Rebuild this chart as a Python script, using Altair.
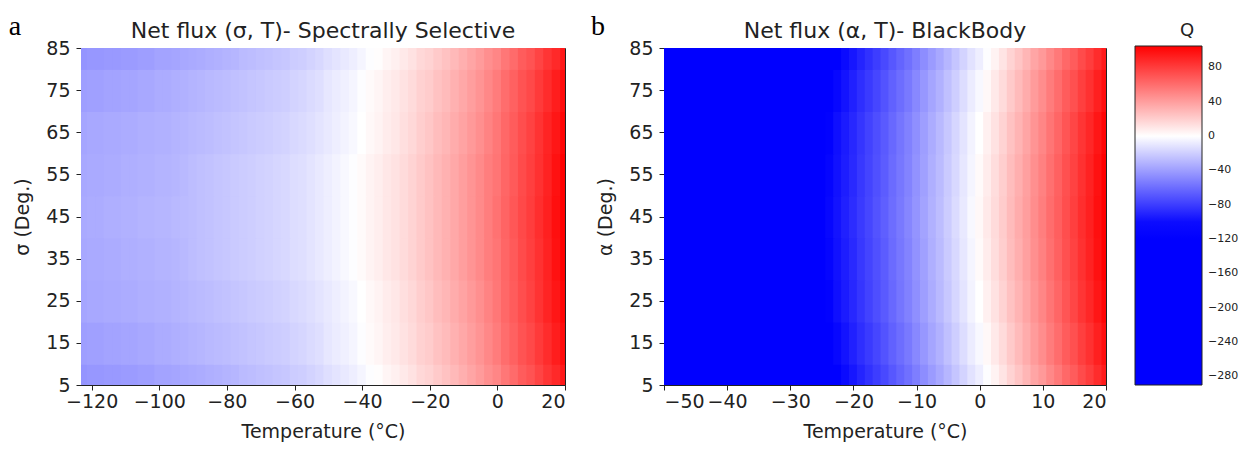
import altair as alt
import pandas as pd

# ---------------- data ----------------
# Panel a: spectrally selective, Q(sigma, T); one list per sigma row
SS_T = [-122.5, -120, -117.5, -115, -112.5, -110, -107.5, -105, -102.5, -100,
        -97.5, -95, -92.5, -90, -87.5, -85, -82.5, -80, -77.5, -75,
        -72.5, -70, -67.5, -65, -62.5, -60, -57.5, -55, -52.5, -50,
        -47.5, -45, -42.5, -40, -37.5, -35, -32.5, -30, -27.5, -25,
        -22.5, -20, -17.5, -15, -12.5, -10, -7.5, -5, -2.5, 0,
        2.5, 5, 7.5, 10, 12.5, 15, 17.5, 20]
SS_ANGLES = [5, 15, 25, 35, 45, 55, 65, 75, 85]
SS_Q5 = [-44, -43, -43, -42, -42, -41, -41, -40, -40, -38,
         -38, -37, -36, -35, -34, -33, -32, -31, -30, -28,
         -27, -26, -25, -24, -23, -21, -20, -18, -16, -13,
         -11, -9, -7, -4, -1, 1, 4, 6, 9, 12,
         16, 18, 22, 25, 29, 33, 37, 41, 46, 50,
         56, 61, 67, 71, 77, 83, 88, 95]
SS_Q15 = [-40, -39, -39, -38, -38, -37, -37, -36, -36, -34,
          -34, -33, -32, -31, -30, -29, -28, -27, -26, -25,
          -24, -23, -22, -21, -20, -18, -17, -15, -13, -10,
          -8, -6, -4, -1, 2, 4, 7, 9, 12, 15,
          19, 21, 25, 28, 32, 36, 40, 44, 49, 54,
          60, 65, 71, 75, 81, 87, 93, 100]
SS_Q25 = [-37, -36, -36, -35, -35, -34, -34, -33, -33, -32,
          -32, -31, -30, -29, -28, -27, -26, -25, -24, -23,
          -22, -21, -20, -19, -18, -16, -15, -13, -11, -9,
          -7, -5, -3, 0, 3, 5, 8, 10, 13, 16,
          20, 23, 27, 30, 34, 38, 42, 46, 51, 56,
          62, 67, 73, 78, 84, 90, 96, 103]
SS_Q35 = [-36, -35, -35, -34, -34, -33, -33, -32, -32, -31,
          -31, -30, -29, -27, -26, -25, -24, -23, -22, -21,
          -20, -19, -18, -17, -16, -14, -13, -11, -9, -7,
          -5, -3, -1, 2, 5, 7, 10, 12, 15, 18,
          22, 25, 29, 32, 36, 40, 44, 48, 53, 57,
          63, 68, 74, 79, 85, 91, 98, 105]
SS_Q45 = [-35, -34, -34, -33, -33, -32, -32, -31, -31, -30,
          -30, -29, -28, -27, -26, -25, -24, -23, -22, -21,
          -20, -19, -18, -17, -16, -14, -13, -11, -9, -7,
          -5, -3, -1, 2, 5, 7, 10, 12, 15, 18,
          22, 25, 29, 32, 36, 40, 44, 48, 53, 58,
          64, 69, 75, 80, 86, 92, 99, 106]
SS_Q55 = [-36, -35, -35, -34, -34, -33, -33, -32, -32, -31,
          -31, -30, -29, -27, -26, -25, -24, -23, -22, -21,
          -20, -19, -18, -17, -16, -14, -13, -11, -9, -7,
          -5, -3, -1, 2, 5, 7, 10, 12, 15, 18,
          22, 25, 29, 32, 36, 40, 44, 48, 53, 57,
          63, 68, 74, 79, 85, 91, 98, 105]
SS_Q65 = [-37, -36, -36, -35, -35, -34, -34, -33, -33, -32,
          -32, -31, -30, -29, -28, -27, -26, -25, -24, -23,
          -22, -21, -20, -19, -18, -16, -15, -13, -11, -9,
          -7, -5, -3, 0, 3, 5, 8, 10, 13, 16,
          20, 23, 27, 30, 34, 38, 42, 46, 51, 56,
          62, 67, 73, 78, 84, 90, 96, 103]
SS_Q75 = [-40, -39, -39, -38, -38, -37, -37, -36, -36, -34,
          -34, -33, -32, -31, -30, -29, -28, -27, -26, -25,
          -24, -23, -22, -21, -20, -18, -17, -15, -13, -10,
          -8, -6, -4, -1, 2, 4, 7, 9, 12, 15,
          19, 21, 25, 28, 32, 36, 40, 44, 49, 54,
          60, 65, 71, 75, 81, 87, 93, 100]
SS_Q85 = [-44, -43, -43, -42, -42, -41, -41, -40, -40, -38,
          -38, -37, -36, -35, -34, -33, -32, -31, -30, -28,
          -27, -26, -25, -24, -23, -21, -20, -18, -16, -13,
          -11, -9, -7, -4, -1, 1, 4, 6, 9, 12,
          16, 18, 22, 25, 29, 33, 37, 41, 46, 50,
          56, 61, 67, 71, 77, 83, 88, 95]

# Panel b: blackbody, Q(alpha, T); one list per alpha row
BB_T = [-50, -45, -40, -35, -30, -27.5, -25, -23.75, -22.5, -21.25,
        -20, -18.75, -17.5, -16.25, -15, -13.75, -12.5, -11.25, -10, -8.75,
        -7.5, -6.25, -5, -3.75, -2.5, -1.25, 0, 1.25, 2.5, 3.75,
        5, 6.25, 7.5, 8.75, 10, 11.25, 12.5, 13.75, 15, 16.25,
        17.5, 18.75, 20]
BB_ANGLES = [5, 15, 25, 35, 45, 55, 65, 75, 85]
BB_Q5 = [-264, -230, -198, -169, -142, -130, -116, -111, -106, -101,
         -96, -90, -85, -80, -75, -69, -64, -59, -53, -47,
         -41, -36, -30, -24, -18, -12, -7, -1, 5, 11,
         18, 24, 30, 37, 42, 49, 55, 62, 67, 74,
         80, 87, 94]
BB_Q15 = [-259, -225, -193, -164, -137, -125, -112, -107, -102, -97,
          -92, -86, -81, -76, -71, -65, -60, -55, -49, -43,
          -37, -32, -26, -20, -14, -8, -3, 3, 9, 15,
          22, 28, 34, 41, 47, 54, 60, 67, 72, 79,
          85, 92, 99]
BB_Q25 = [-255, -221, -189, -160, -133, -121, -109, -104, -99, -94,
          -89, -83, -78, -73, -68, -62, -57, -52, -46, -40,
          -34, -29, -23, -17, -11, -5, 0, 6, 12, 18,
          25, 31, 37, 44, 50, 57, 63, 70, 76, 83,
          89, 96, 103]
BB_Q35 = [-253, -219, -187, -158, -131, -119, -108, -103, -98, -93,
          -88, -82, -77, -72, -67, -61, -56, -51, -45, -39,
          -33, -28, -22, -16, -10, -4, 2, 8, 14, 20,
          27, 33, 39, 46, 52, 59, 65, 72, 78, 85,
          91, 98, 105]
BB_Q45 = [-252, -218, -186, -157, -130, -118, -107, -102, -97, -92,
          -87, -81, -76, -71, -66, -60, -55, -50, -44, -38,
          -32, -27, -21, -15, -9, -3, 3, 9, 15, 21,
          28, 34, 40, 47, 53, 60, 66, 73, 79, 86,
          92, 99, 106]
BB_Q55 = [-253, -219, -187, -158, -131, -119, -108, -103, -98, -93,
          -88, -82, -77, -72, -67, -61, -56, -51, -45, -39,
          -33, -28, -22, -16, -10, -4, 2, 8, 14, 20,
          27, 33, 39, 46, 52, 59, 65, 72, 78, 85,
          91, 98, 105]
BB_Q65 = [-255, -221, -189, -160, -133, -121, -109, -104, -99, -94,
          -89, -83, -78, -73, -68, -62, -57, -52, -46, -40,
          -34, -29, -23, -17, -11, -5, 0, 6, 12, 18,
          25, 31, 37, 44, 50, 57, 63, 70, 76, 83,
          89, 96, 103]
BB_Q75 = [-259, -225, -193, -164, -137, -125, -112, -107, -102, -97,
          -92, -86, -81, -76, -71, -65, -60, -55, -49, -43,
          -37, -32, -26, -20, -14, -8, -3, 3, 9, 15,
          22, 28, 34, 41, 47, 54, 60, 67, 72, 79,
          85, 92, 99]
BB_Q85 = [-264, -230, -198, -169, -142, -130, -116, -111, -106, -101,
          -96, -90, -85, -80, -75, -69, -64, -59, -53, -47,
          -41, -36, -30, -24, -18, -12, -7, -1, 5, 11,
          18, 24, 30, 37, 42, 49, 55, 62, 67, 74,
          80, 87, 94]

SS_ROWS = [SS_Q5, SS_Q15, SS_Q25, SS_Q35, SS_Q45, SS_Q55, SS_Q65, SS_Q75, SS_Q85]
BB_ROWS = [BB_Q5, BB_Q15, BB_Q25, BB_Q35, BB_Q45, BB_Q55, BB_Q65, BB_Q75, BB_Q85]

SS_XDOMAIN = [-123.15, 20]
BB_XDOMAIN = [-50, 20]
Y_DOMAIN = [5, 85]
SS_XTICKS = [-120, -100, -80, -60, -40, -20, 0, 20]
BB_XTICKS = [-50, -40, -30, -20, -10, 0, 10, 20]
Y_TICKS = [5, 15, 25, 35, 45, 55, 65, 75, 85]
Q_TICKS = [80, 40, 0, -40, -80, -120, -160, -200, -240, -280]
Q_DOMAIN = [-290, -105, 0, 105]
Q_RANGE = ["#0000ff", "#0000ff", "#ffffff", "#ff0000"]

SS_TITLE = "Net flux (σ, T)- Spectrally Selective"
BB_TITLE = "Net flux (α, T)- BlackBody"


def edges(vals, lo, hi, eps):
    """Cell boundaries halfway between neighbouring samples, with a hair of
    overlap so that anti-aliased seams do not show between cells."""
    mids = [(a + b) / 2 for a, b in zip(vals[:-1], vals[1:])]
    return [lo] + [m - eps for m in mids], [m + eps for m in mids] + [hi]


def grid(ts, angles, rows, xdom):
    t0, t1 = edges(ts, xdom[0], xdom[1], (xdom[1] - xdom[0]) * 0.0012)
    a0, a1 = edges(angles, Y_DOMAIN[0], Y_DOMAIN[1], 0.2)
    recs = []
    for j, row in enumerate(rows):
        for i, q in enumerate(row):
            recs.append({"t0": t0[i], "t1": t1[i], "a0": a0[j], "a1": a1[j], "Q": q})
    return pd.DataFrame(recs)


ss_df = grid(SS_T, SS_ANGLES, SS_ROWS, SS_XDOMAIN)
bb_df = grid(BB_T, BB_ANGLES, BB_ROWS, BB_XDOMAIN)

FONT = "DejaVu Sans"
INK = "#222222"

color_scale = alt.Scale(domain=Q_DOMAIN, range=Q_RANGE, interpolate="rgb", clamp=True)
legend = alt.Legend(title="Q", type="gradient", orient="none", direction="vertical",
                    legendX=1054, legendY=-26,
                    values=Q_TICKS, gradientLength=339, gradientThickness=67,
                    labelFontSize=11, titleFontSize=18, titleFontWeight="normal",
                    titleAnchor="middle", titleAlign="center",
                    gradientStrokeColor=INK, gradientStrokeWidth=1,
                    labelOverlap=False, labelColor=INK, titleColor=INK,
                    titlePadding=6, labelOffset=6)


def panel(df, xdomain, xticks, ytitle, title, letter, w, show_legend):
    heat = alt.Chart(df).mark_rect(clip=True).encode(
        x=alt.X("t0:Q", scale=alt.Scale(domain=xdomain, nice=False, zero=False),
                axis=alt.Axis(values=xticks, title="Temperature (°C)")),
        x2="t1:Q",
        y=alt.Y("a0:Q", scale=alt.Scale(domain=Y_DOMAIN, nice=False, zero=False),
                axis=alt.Axis(values=Y_TICKS, title=ytitle)),
        y2="a1:Q",
        color=alt.Color("Q:Q", scale=color_scale, legend=legend if show_legend else None),
    )
    lab = alt.Chart(pd.DataFrame({"s": [letter]})).mark_text(
        font="Liberation Serif", fontSize=28, align="center", baseline="alphabetic",
        color="black").encode(text="s:N", x=alt.value(-66), y=alt.value(-13))
    ttl = alt.Chart(pd.DataFrame({"s": [title]})).mark_text(
        font=FONT, fontSize=22, align="center", baseline="alphabetic",
        color=INK).encode(text="s:N", x=alt.value(w / 2), y=alt.value(-10))
    return alt.layer(heat, lab, ttl).properties(width=w, height=337)


left = panel(ss_df, SS_XDOMAIN, SS_XTICKS, "σ (Deg.)", SS_TITLE, "a", 484, True)
right = panel(bb_df, BB_XDOMAIN, BB_XTICKS, "α (Deg.)", BB_TITLE, "b", 442, False)

chart = alt.hconcat(left, right, spacing=24).resolve_scale(
    color="shared").configure_axis(
    labelFont=FONT, titleFont=FONT, labelFontSize=19, titleFontSize=19,
    labelColor=INK, titleColor=INK, domainColor=INK, tickColor=INK,
    tickSize=5, grid=False, titleFontWeight="normal",
).configure_axisX(titlePadding=11, labelPadding=2).configure_axisY(
    titlePadding=13, labelPadding=6).configure_view(
    stroke=INK, strokeWidth=1).configure_legend(
    labelFont=FONT, titleFont=FONT).properties(
    padding={"left": 0, "top": 4, "right": 5, "bottom": 0})

chart.save("out.html", embed_options={"renderer": "svg", "actions": False})
